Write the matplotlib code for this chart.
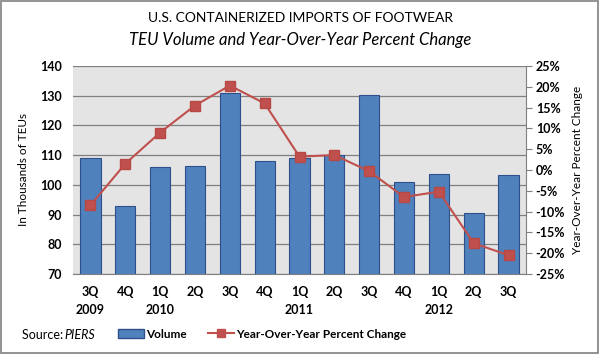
import matplotlib
matplotlib.use("Agg")
import matplotlib.pyplot as plt
from matplotlib.patches import Rectangle
from matplotlib.lines import Line2D

quarters = ["3Q", "4Q", "1Q", "2Q", "3Q", "4Q", "1Q", "2Q", "3Q", "4Q", "1Q", "2Q", "3Q"]
years = ["2009", "", "2010", "", "", "", "2011", "", "", "", "2012", "", ""]
volume = [109.0, 93.0, 106.0, 106.2, 131.0, 108.0, 109.2, 110.0, 130.3, 100.8, 103.5, 90.6, 103.3]
yoy = [-8.5, 1.5, 9.0, 15.5, 20.3, 16.0, 3.2, 3.6, -0.3, -6.5, -5.2, -17.6, -20.5]

plt.rcParams["font.family"] = ["Lato", "DejaVu Sans"]

fig = plt.figure(figsize=(6, 3.54), dpi=100)
fig.patches.append(Rectangle((0.002, 0.003), 0.995, 0.994, transform=fig.transFigure,
                             fill=False, edgecolor="#808080", linewidth=1.2))

ax = fig.add_axes([73 / 600, 1 - 274 / 354, 453 / 600, 208 / 354])
ax.set_facecolor("#e4e4e4")
x = list(range(len(volume)))
ax.bar(x, volume, width=0.58, color="#4f81bd", edgecolor="#2f4f8a", linewidth=0.8, zorder=3)
ax.set_ylim(70, 140)
ax.set_xlim(-0.5, len(volume) - 0.5)
ax.set_yticks(range(70, 141, 10))
ax.yaxis.grid(True, color="#7f7f7f", linewidth=0.9, zorder=0)
ax.set_axisbelow(True)
for s in ["top", "left", "right"]:
    ax.spines[s].set_visible(False)
ax.spines["bottom"].set_color("#7f7f7f")
ax.tick_params(axis="y", length=0, labelsize=9, pad=8)
ax.tick_params(axis="x", length=0, labelsize=9, pad=9)
for lab in ax.get_yticklabels():
    lab.set_fontweight("bold")
ax.set_xticks(x)
ax.set_xticklabels([q + "\n" + y for q, y in zip(quarters, years)], fontweight="bold",
                   linespacing=1.5, va="top")
ax.set_ylabel("In Thousands of TEUs", fontsize=8.5, labelpad=8)

ax2 = ax.twinx()
ax2.plot(x, yoy, color="#c0504d", linewidth=1.5, marker="s", markersize=7,
         markerfacecolor="#c0504d", markeredgecolor="#b84844", zorder=4)
ax2.set_ylim(-25, 25)
ax2.set_yticks(range(-25, 26, 5))
ax2.set_yticklabels([f"{v}%" for v in range(-25, 26, 5)])
for s in ["top", "left", "bottom"]:
    ax2.spines[s].set_visible(False)
ax2.spines["right"].set_color("#7f7f7f")
ax2.tick_params(axis="y", length=4, color="#7f7f7f", labelsize=9, pad=3)
for lab in ax2.get_yticklabels():
    lab.set_fontweight("bold")
ax2.set_ylabel("Year-Over-Year Percent Change", fontsize=8.5, labelpad=5)

fig.text(0.5, 1 - 18 / 354, "U.S. CONTAINERIZED IMPORTS OF FOOTWEAR", ha="center", va="center", fontsize=10)
fig.text(0.5, 1 - 40 / 354, "TEU Volume and Year-Over-Year Percent Change", ha="center", va="center",
         fontsize=12, style="italic")
fig.text(22 / 600, 1 - 335 / 354, "Source: ", ha="left", va="center", fontsize=9)
fig.text(64 / 600, 1 - 335 / 354, "PIERS", ha="left", va="center", fontsize=9, style="italic")

handles = [Rectangle((0, 0), 1, 1, facecolor="#4f81bd", edgecolor="#2f4f8a"),
           Line2D([0], [0], color="#c0504d", linewidth=1.5, marker="s", markersize=6)]
leg = fig.legend(handles, ["Volume", "Year-Over-Year Percent Change"], loc="center",
                 bbox_to_anchor=(0.437, 1 - 334 / 354), ncol=2, frameon=False,
                 prop={"weight": "bold", "size": 8.5}, handlelength=2.2, handletextpad=0.2,
                 columnspacing=1.8)

plt.savefig("out.png")
